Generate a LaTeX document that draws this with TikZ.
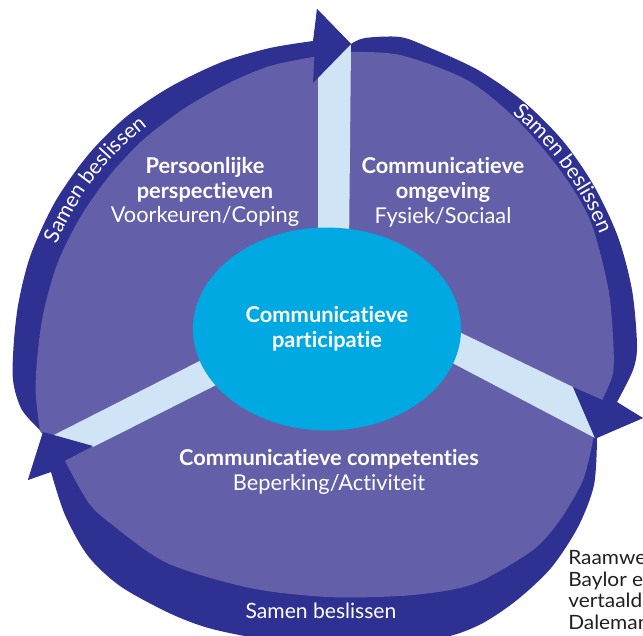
\documentclass[tikz,border=0pt]{standalone}
\usepackage{fontspec}
\setmainfont{Lato}[Ligatures=NoCommon]
\newfontfamily\notefont{Lato}[Ligatures=NoCommon,FakeStretch=1.06]
\usepackage{tikz}
\usetikzlibrary{shapes.geometric}
\usetikzlibrary{decorations.text}
\definecolor{ringblue}{RGB}{46,49,146}
\definecolor{sectorpurple}{RGB}{99,95,168}
\definecolor{bandblue}{RGB}{209,228,245}
\definecolor{corecyan}{RGB}{0,169,225}
\definecolor{notegray}{RGB}{35,31,32}
\newcommand{\ringfont}{\fontsize{15}{17}\selectfont}
\tikzstyle{ring}=[fill=ringblue]
\tikzstyle{sector}=[fill=sectorpurple]
\tikzstyle{band}=[fill=bandblue]
\tikzstyle{sectortext}=[text=white,align=center,inner sep=0pt,font=\fontsize{15.5}{17.7}\selectfont]
\tikzstyle{core}=[ellipse,fill=corecyan,inner sep=0pt,minimum width=6.7cm,minimum height=5.07cm,sectortext]
\tikzstyle{ringtext}=[text=white,inner sep=0pt,font=\ringfont]
\tikzstyle{note}=[text=notegray,align=left,inner sep=0pt,font=\notefont\fontsize{14}{15.4}\selectfont]
\tikzstyle{along}=[decorate,decoration={text along path,text color=white,text align=center,text={|\ringfont|Samen beslissen}}]

\begin{document}
\begin{tikzpicture}[x=0.025cm,y=0.025cm]
	\useasboundingbox (0,0) rectangle (643,-636);
	\clip (0,0) rectangle (643,-636);
	% arrow tips
	\coordinate (tipTop) at (351,-44);
	\coordinate (tipRight) at (643,-418);
	\coordinate (tipLeft) at (43,-432);
	% dark ring: three arcs, each ending in a head
	\fill[ring] plot[smooth] coordinates {(43,-433) (22,-410) (13,-380) (14,-340) (19,-300) (31,-254) (55,-202) (88,-155) (126,-117) (170,-87) (222,-62) (270,-48) (313,-41)}
		-- (317,-9) -- (tipTop)
		-- plot[smooth] coordinates {(351,-44) (365,-38) (400,-37) (428,-47) (478,-70) (524,-102) (563,-141) (594,-186) (618,-237) (632,-290) (637,-345) (633,-370) (617,-402)}
		-- (tipRight) -- (597,-438)
		-- plot[smooth] coordinates {(597,-438) (594,-485) (578,-527) (551,-568) (517,-600) (483,-623) (450,-636) (400,-645) (320,-648) (250,-637) (205,-627) (167,-612) (120,-586) (88,-556) (65,-515) (51,-472)}
		-- (28,-480) -- cycle;
	% the three sectors
	\fill[sector] plot[smooth] coordinates {(40,-431) (35.6,-391) (38,-350) (44,-310) (58,-262) (81,-216) (110,-175) (144,-139) (185,-108) (229,-83) (270,-66) (313,-57)}
		-- (349,-52)
		-- plot[smooth] coordinates {(349,-52) (400,-55) (467,-80) (517,-120) (560,-170) (590,-220) (608,-287) (613,-337) (613,-373) (603,-398)}
		-- (593,-440)
		-- plot[smooth] coordinates {(593,-440) (583,-480) (560,-520) (533,-550) (483,-580) (450,-590) (400,-596) (328,-597) (250,-588) (167,-563) (110,-523) (88,-502) (65,-461)}
		-- cycle;
	% light bands between the sectors
	\fill[band] (318,-250) -- (318,-70) -- (tipTop) -- (349,-250) -- cycle;
	\fill[band] (420,-313) -- (573,-387) -- (595,-438) -- (420,-346) -- cycle;
	\fill[band] (235,-343) -- (44,-440) -- (93,-447) -- (250,-368) -- cycle;
	% arrow heads
	\fill[ring] (317,-9) -- (tipTop) -- (313,-83) -- cycle;
	\fill[ring] (573,-387) -- (tipRight) -- (595,-438) -- cycle;
	\fill[ring] (tipLeft) -- (93,-446) -- (28,-480) -- cycle;
	% centre
	\node[core] (core) at (327,-329) {\textbf{Communicatieve}\\\textbf{participatie}};
	% sector texts
	\node[sectortext] (persoonlijk) at (205,-192) {\textbf{Persoonlijke}\\\textbf{perspectieven}\\Voorkeuren/Coping};
	\node[sectortext] (omgeving) at (443,-192) {\textbf{Communicatieve}\\\textbf{omgeving}\\Fysiek/Sociaal};
	\node[sectortext] (competenties) at (329,-472) {\textbf{Communicatieve competenties}\\Beperking/Activiteit};
	% ring texts
	\path[along] (330,-360) ++(175:297) arc[start angle=175,end angle=110,radius=297];
	\path[along] (320,-345) ++(64:301) arc[start angle=64,end angle=8,radius=301];
	\node[ringtext] (samenOnder) at (321,-611) {Samen beslissen};
	% source note
	\node[note,anchor=north west] (bron) at (568,-550) {Raamwe\\Baylor e\\vertaald\\Daleman};
\end{tikzpicture}
\end{document}
